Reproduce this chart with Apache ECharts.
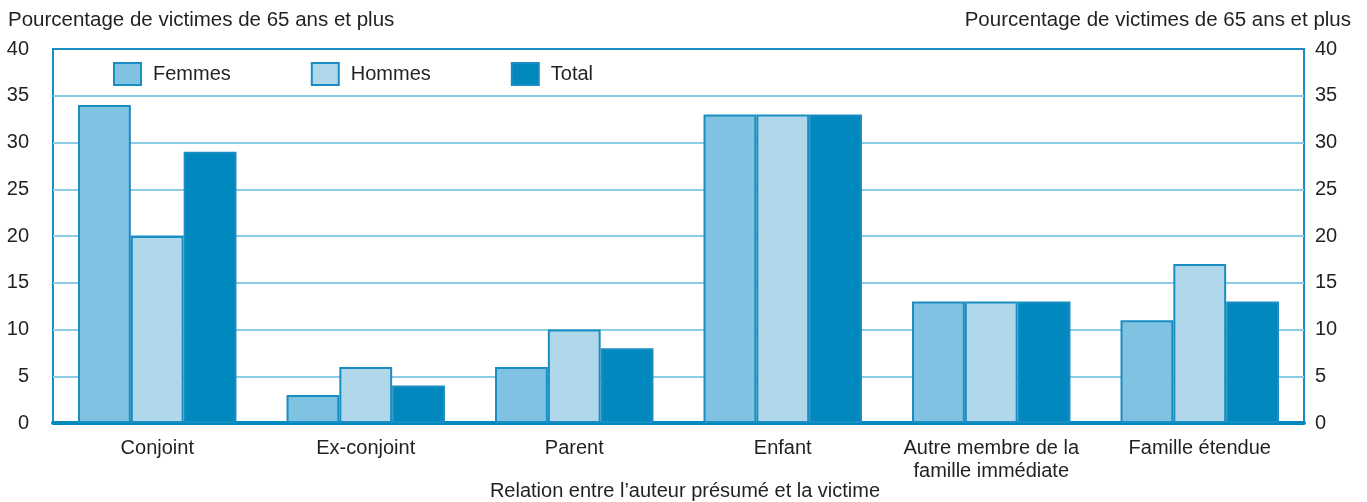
<!DOCTYPE html>
<html>
<head>
<meta charset="utf-8">
<script src="https://cdn.jsdelivr.net/npm/echarts@6/dist/echarts.min.js"></script>
<style>
  html, body { margin: 0; padding: 0; background: #fff; }
  #chart { width: 1367px; height: 502px; }
</style>
</head>
<body>
<div id="chart"></div>
<script>
var categories = ['Conjoint', 'Ex-conjoint', 'Parent', 'Enfant', 'Autre membre de la\nfamille immédiate', 'Famille étendue'];
var femmes = [34, 3, 6, 33, 13, 11];
var hommes = [20, 6, 10, 33, 13, 17];
var total = [29, 4, 8, 33, 13, 13];

var fontFam = '"Liberation Sans", Arial, sans-serif';
var textCol = '#231f20';
var edge = '#1a8dc2';

var chart = echarts.init(document.getElementById('chart'));
chart.setOption({
  animation: false,
  textStyle: { fontFamily: fontFam, color: textCol },
  title: [
    { text: 'Pourcentage de victimes de 65 ans et plus', left: 3, top: 5,
      textStyle: { fontFamily: fontFam, fontSize: 20.5, fontWeight: 'normal', color: textCol } },
    { text: 'Pourcentage de victimes de 65 ans et plus', right: 11, top: 5,
      textStyle: { fontFamily: fontFam, fontSize: 20.5, fontWeight: 'normal', color: textCol } },
    { text: 'Relation entre l\u2019auteur présumé et la victime', left: 680, textAlign: 'center', top: 476,
      textStyle: { fontFamily: fontFam, fontSize: 20, fontWeight: 'normal', color: textCol } }
  ],
  legend: {
    left: 108, top: 57,
    icon: 'rect',
    itemWidth: 27, itemHeight: 22, itemGap: 80,
    textStyle: { fontFamily: fontFam, fontSize: 20, color: textCol, padding: [0, 0, 0, 7] },
    data: ['Femmes', 'Hommes', 'Total']
  },
  grid: {
    left: 53, right: 63, top: 49, bottom: 79,
    show: true, borderColor: edge, borderWidth: 2, backgroundColor: 'transparent'
  },
  xAxis: {
    type: 'category',
    data: categories,
    axisLine: { show: true, lineStyle: { color: '#0088bf', width: 4 } },
    axisTick: { show: false },
    axisLabel: { interval: 0, fontFamily: fontFam, fontSize: 20, color: textCol, margin: 14, lineHeight: 23 }
  },
  yAxis: [
    {
      type: 'value', min: 0, max: 40, interval: 5, position: 'left',
      axisLine: { show: false }, axisTick: { show: false },
      axisLabel: { fontFamily: fontFam, fontSize: 20, color: textCol, margin: 24 },
      splitLine: { show: true, showMaxLine: false, showMinLine: false, lineStyle: { color: '#8ecbe6', width: 2 } }
    },
    {
      type: 'value', min: 0, max: 40, interval: 5, position: 'right',
      axisLine: { show: false }, axisTick: { show: false },
      axisLabel: { fontFamily: fontFam, fontSize: 20, color: textCol, margin: 11 },
      splitLine: { show: false }
    }
  ],
  series: [
    { name: 'Femmes', type: 'bar', data: femmes, barGap: '0%', barCategoryGap: '24%',
      itemStyle: { color: '#7fc2e1', borderColor: edge, borderWidth: 2 } },
    { name: 'Hommes', type: 'bar', data: hommes,
      itemStyle: { color: '#b0d8ea', borderColor: edge, borderWidth: 2 } },
    { name: 'Total', type: 'bar', data: total,
      itemStyle: { color: '#0088bf', borderColor: edge, borderWidth: 2 } }
  ]
});
window.addEventListener('resize', function () { chart.resize(); });
</script>
</body>
</html>
